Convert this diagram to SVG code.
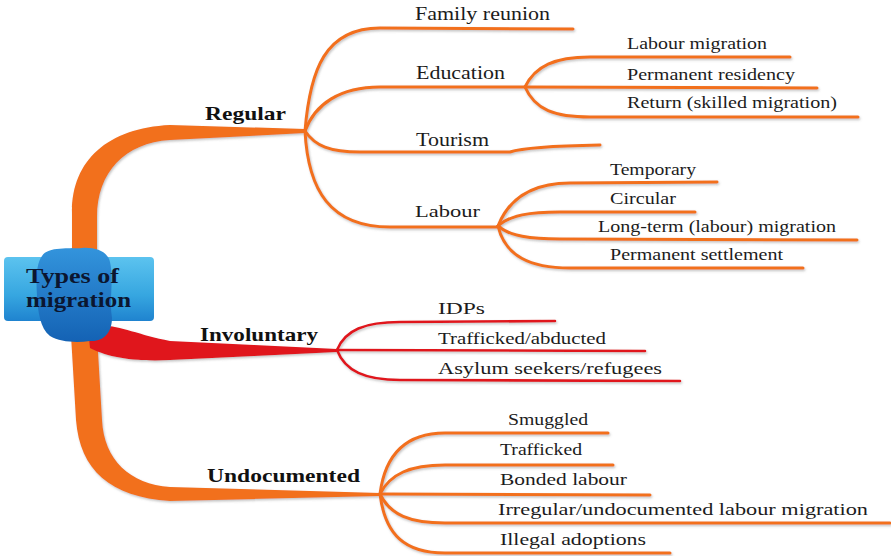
<svg xmlns="http://www.w3.org/2000/svg" width="891" height="556" viewBox="0 0 891 556">
<defs>
<linearGradient id="boxg" x1="0" y1="0" x2="0" y2="1">
<stop offset="0" stop-color="#5cc3ef"/>
<stop offset="0.6" stop-color="#36a6e0"/>
<stop offset="1" stop-color="#1f83cf"/>
</linearGradient>
<linearGradient id="blobg" x1="0" y1="0" x2="0" y2="1">
<stop offset="0" stop-color="#3394dc"/>
<stop offset="1" stop-color="#1462b4"/>
</linearGradient>
<filter id="sh" x="-5%" y="-5%" width="110%" height="120%">
<feDropShadow dx="1" dy="1.5" stdDeviation="0.8" flood-color="#777" flood-opacity="0.45"/>
</filter>
</defs>
<style>
.o{fill:none;stroke:#f26f1e;stroke-width:3;stroke-linecap:round}
.r{fill:none;stroke:#e0141e;stroke-width:2.6;stroke-linecap:round}
.t{font-family:"Liberation Serif","Times New Roman",serif;fill:#1c1c1c}
.b{font-family:"Liberation Serif","Times New Roman",serif;font-weight:bold;fill:#111;font-size:19px}
.c{font-family:"Liberation Serif","Times New Roman",serif;font-weight:bold;fill:#0b1630;font-size:21px}
</style>
<rect width="891" height="556" fill="#ffffff"/>
<g id="connectors" filter="url(#sh)">
<!-- main trunks -->
<path d="M 72 262 L 72 212 C 72 160 108 128 170 125 L 305 129 L 305 133 L 170 140 C 125 143 97 172 97 217 L 97 262 Z" fill="#f26f1e"/>
<path d="M 70 318 L 76 420 C 80 470 110 497 170 501 L 380 496 L 380 493 L 170 487 C 130 484 104 460 102 420 L 96 318 Z" fill="#f26f1e"/>
<path d="M 88 328 C 110 320 132 334 170 341 L 337 349 L 337 352 L 170 360 C 130 362 105 356 90 348 Z" fill="#e0141e"/>
<!-- Regular -->
<path class="o" d="M 305 131 C 310 70 325 28 380 28 L 573 29"/>
<path class="o" d="M 305 131 C 315 104 340 87 380 87 L 525 87"/>
<path class="o" d="M 305 131 C 315 146 330 152 360 152 L 510 152 C 522 148 545 146 600 145"/>
<path class="o" d="M 305 131 C 308 190 330 227 390 227 L 500 227"/>
<!-- Education -->
<path class="o" d="M 525 87 C 535 66 555 57 590 57 L 790 57"/>
<path class="o" d="M 525 87 L 817 88"/>
<path class="o" d="M 525 87 C 535 110 555 117 590 117 L 858 117"/>
<!-- Labour -->
<path class="o" d="M 498 226 C 510 196 535 183 570 183 L 717 182"/>
<path class="o" d="M 498 226 C 510 215 530 212 560 212 L 695 212"/>
<path class="o" d="M 498 226 C 510 236 530 239 560 239 L 857 240"/>
<path class="o" d="M 498 226 C 505 256 530 268 570 268 L 803 268"/>
<!-- Involuntary -->
<path class="r" d="M 337 350 C 345 330 365 322 400 322 L 555 321"/>
<path class="r" d="M 337 350 L 645 351"/>
<path class="r" d="M 337 350 C 345 371 365 380 400 380 L 680 381"/>
<!-- Undocumented -->
<path class="o" d="M 380 494 C 385 455 405 433 445 433 L 608 433"/>
<path class="o" d="M 380 494 C 390 474 410 465 445 465 L 613 465"/>
<path class="o" d="M 380 494 L 650 495"/>
<path class="o" d="M 380 494 C 390 515 410 523 445 523 L 890 523"/>
<path class="o" d="M 380 494 C 385 535 405 553 445 553 L 670 553"/>
</g>
<g id="center">
<rect x="4" y="257" width="150" height="64" rx="4" fill="url(#boxg)"/>
<path d="M 42 256 C 48 246 70 249 82 248 C 96 247 108 252 110 262 C 114 280 109 300 112 318 C 112 332 104 342 90 341 C 76 343 60 342 50 336 C 40 328 38 312 37 296 C 36 280 36 264 42 256 Z" fill="url(#blobg)"/>
<text class="c" x="26" y="283" textLength="93" lengthAdjust="spacingAndGlyphs">Types of</text>
<text class="c" x="26" y="307" textLength="105" lengthAdjust="spacingAndGlyphs">migration</text>
</g>
<g id="regular"><text class="b" x="205" y="120" textLength="81" lengthAdjust="spacingAndGlyphs">Regular</text></g>
<g id="involuntary"><text class="b" x="200" y="341" textLength="118" lengthAdjust="spacingAndGlyphs">Involuntary</text></g>
<g id="undocumented"><text class="b" x="207" y="482" textLength="153" lengthAdjust="spacingAndGlyphs">Undocumented</text></g>
<g id="family-reunion"><text class="t" font-size="18" x="415" y="20" textLength="135" lengthAdjust="spacingAndGlyphs">Family reunion</text></g>
<g id="education"><text class="t" font-size="18" x="416" y="79" textLength="89" lengthAdjust="spacingAndGlyphs">Education</text></g>
<g id="tourism"><text class="t" font-size="18" x="416" y="146" textLength="73" lengthAdjust="spacingAndGlyphs">Tourism</text></g>
<g id="labour"><text class="t" font-size="17" x="415" y="217" textLength="65" lengthAdjust="spacingAndGlyphs">Labour</text></g>
<g id="labour-migration"><text class="t" font-size="16" x="627" y="49" textLength="140" lengthAdjust="spacingAndGlyphs">Labour migration</text></g>
<g id="permanent-residency"><text class="t" font-size="16" x="627" y="80" textLength="168" lengthAdjust="spacingAndGlyphs">Permanent residency</text></g>
<g id="return"><text class="t" font-size="16" x="627" y="108" textLength="210" lengthAdjust="spacingAndGlyphs">Return (skilled migration)</text></g>
<g id="temporary"><text class="t" font-size="16" x="610" y="175" textLength="86" lengthAdjust="spacingAndGlyphs">Temporary</text></g>
<g id="circular"><text class="t" font-size="16" x="610" y="204" textLength="66" lengthAdjust="spacingAndGlyphs">Circular</text></g>
<g id="long-term"><text class="t" font-size="16" x="598" y="232" textLength="238" lengthAdjust="spacingAndGlyphs">Long-term (labour) migration</text></g>
<g id="permanent-settlement"><text class="t" font-size="16" x="610" y="260" textLength="173" lengthAdjust="spacingAndGlyphs">Permanent settlement</text></g>
<g id="idps"><text class="t" font-size="17" x="438" y="314" textLength="47" lengthAdjust="spacingAndGlyphs">IDPs</text></g>
<g id="trafficked-abducted"><text class="t" font-size="17" x="438" y="344" textLength="168" lengthAdjust="spacingAndGlyphs">Trafficked/abducted</text></g>
<g id="asylum"><text class="t" font-size="17" x="438" y="374" textLength="224" lengthAdjust="spacingAndGlyphs">Asylum seekers/refugees</text></g>
<g id="smuggled"><text class="t" font-size="17" x="508" y="425" textLength="80" lengthAdjust="spacingAndGlyphs">Smuggled</text></g>
<g id="trafficked"><text class="t" font-size="17" x="500" y="455" textLength="82" lengthAdjust="spacingAndGlyphs">Trafficked</text></g>
<g id="bonded-labour"><text class="t" font-size="17" x="500" y="485" textLength="127" lengthAdjust="spacingAndGlyphs">Bonded labour</text></g>
<g id="irregular"><text class="t" font-size="17" x="498" y="515" textLength="370" lengthAdjust="spacingAndGlyphs">Irregular/undocumented labour migration</text></g>
<g id="illegal-adoptions"><text class="t" font-size="17" x="500" y="545" textLength="146" lengthAdjust="spacingAndGlyphs">Illegal adoptions</text></g>
</svg>
